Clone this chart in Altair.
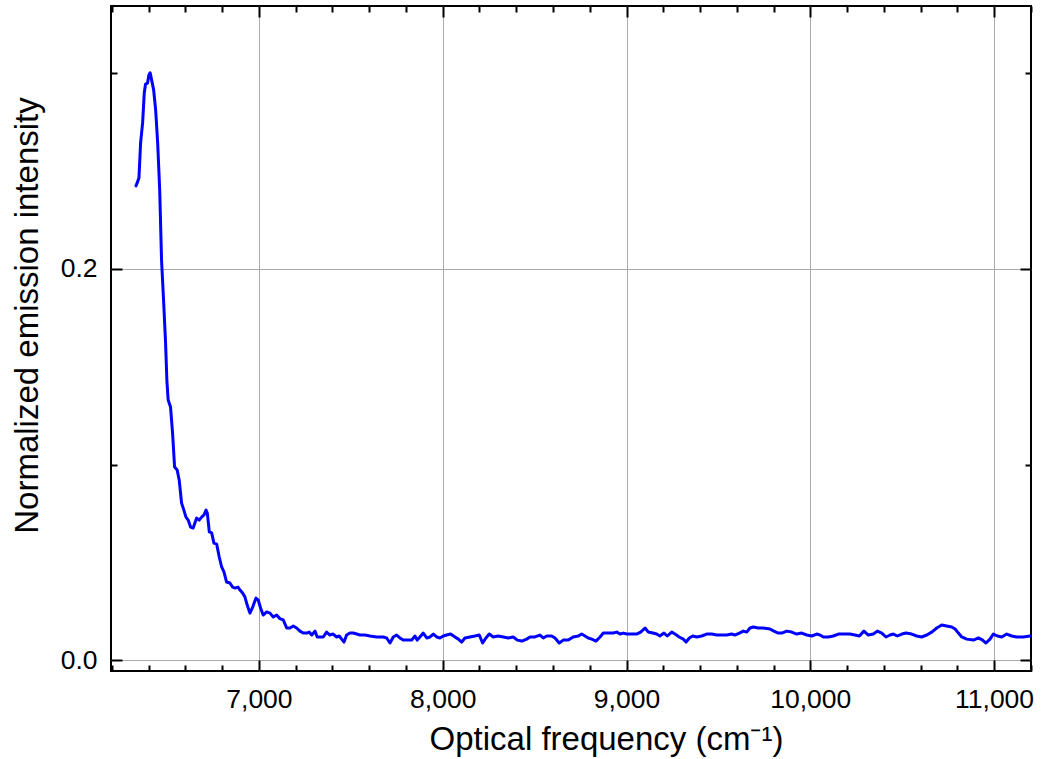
import altair as alt
import pandas as pd

# Optical frequency (cm^-1)
freq = [
    6331, 6340, 6347, 6356, 6367, 6376, 6383, 6394, 6401, 6408,
    6416, 6427, 6438, 6449, 6460, 6470, 6481, 6492, 6499, 6506,
    6519, 6530, 6541, 6555, 6566, 6579, 6588, 6603, 6615, 6628,
    6642, 6661, 6675, 6688, 6701, 6712, 6719, 6730, 6743, 6755,
    6770, 6784, 6797, 6810, 6824, 6842, 6857, 6871, 6886, 6897,
    6911, 6924, 6936, 6951, 6966, 6984, 6996, 7009, 7023, 7042,
    7060, 7078, 7096, 7114, 7132, 7151, 7169, 7187, 7205, 7223,
    7241, 7260, 7274, 7287, 7305, 7317, 7332, 7350, 7368, 7386,
    7404, 7423, 7437, 7450, 7463, 7477, 7495, 7513, 7532, 7550,
    7577, 7604, 7641, 7658, 7676, 7695, 7713, 7731, 7749, 7767,
    7785, 7813, 7831, 7849, 7861, 7876, 7894, 7913, 7931, 7949,
    7967, 7985, 8003, 8021, 8043, 8067, 8085, 8103, 8121, 8148,
    8175, 8199, 8217, 8235, 8253, 8275, 8302, 8330, 8357, 8384,
    8406, 8430, 8457, 8475, 8502, 8529, 8547, 8566, 8593, 8611,
    8634, 8656, 8683, 8710, 8738, 8756, 8774, 8792, 8811, 8834,
    8856, 8874, 8901, 8928, 8947, 8965, 8983, 9001, 9028, 9055,
    9077, 9101, 9119, 9143, 9164, 9182, 9204, 9222, 9246, 9264,
    9287, 9309, 9324, 9342, 9360, 9382, 9409, 9436, 9464, 9491,
    9518, 9545, 9572, 9590, 9614, 9636, 9654, 9672, 9690, 9717,
    9744, 9781, 9802, 9826, 9845, 9872, 9899, 9926, 9953, 9981,
    10008, 10035, 10053, 10071, 10098, 10125, 10153, 10189, 10216, 10243,
    10267, 10292, 10316, 10343, 10365, 10389, 10412, 10434, 10452, 10474,
    10498, 10521, 10552, 10579, 10606, 10634, 10661, 10688, 10715, 10742,
    10770, 10788, 10806, 10824, 10851, 10888, 10915, 10938, 10956, 10978,
    10996, 11018, 11042, 11069, 11096, 11123, 11159, 11196,
]

# Normalized emission intensity
intensity = [
    0.2425, 0.2447, 0.2465, 0.2644, 0.2747, 0.2900, 0.2946, 0.2951, 0.2992, 0.3003,
    0.2967, 0.2916, 0.2813, 0.2644, 0.2404, 0.2046, 0.1841, 0.1621, 0.1432, 0.1330,
    0.1294, 0.1161, 0.0987, 0.0972, 0.0921, 0.0803, 0.0777, 0.0731, 0.0716, 0.0680,
    0.0675, 0.0726, 0.0716, 0.0731, 0.0742, 0.0767, 0.0752, 0.0655, 0.0650, 0.0598,
    0.0593, 0.0527, 0.0476, 0.0450, 0.0399, 0.0394, 0.0373, 0.0368, 0.0373, 0.0358,
    0.0343, 0.0322, 0.0281, 0.0240, 0.0271, 0.0317, 0.0307, 0.0266, 0.0230, 0.0246,
    0.0240, 0.0220, 0.0230, 0.0212, 0.0205, 0.0164, 0.0164, 0.0174, 0.0164, 0.0148,
    0.0138, 0.0138, 0.0143, 0.0128, 0.0148, 0.0118, 0.0118, 0.0118, 0.0143, 0.0128,
    0.0133, 0.0118, 0.0123, 0.0107, 0.0092, 0.0128, 0.0138, 0.0138, 0.0133, 0.0128,
    0.0128, 0.0123, 0.0118, 0.0118, 0.0118, 0.0113, 0.0087, 0.0118, 0.0128, 0.0113,
    0.0102, 0.0102, 0.0102, 0.0123, 0.0102, 0.0118, 0.0138, 0.0113, 0.0118, 0.0133,
    0.0118, 0.0113, 0.0123, 0.0128, 0.0133, 0.0118, 0.0107, 0.0092, 0.0113, 0.0118,
    0.0123, 0.0128, 0.0087, 0.0113, 0.0133, 0.0118, 0.0123, 0.0118, 0.0113, 0.0118,
    0.0102, 0.0097, 0.0107, 0.0118, 0.0118, 0.0128, 0.0113, 0.0123, 0.0123, 0.0113,
    0.0087, 0.0102, 0.0102, 0.0118, 0.0123, 0.0133, 0.0123, 0.0113, 0.0107, 0.0097,
    0.0118, 0.0138, 0.0138, 0.0138, 0.0143, 0.0133, 0.0138, 0.0133, 0.0133, 0.0133,
    0.0143, 0.0164, 0.0143, 0.0138, 0.0133, 0.0123, 0.0138, 0.0123, 0.0143, 0.0133,
    0.0118, 0.0107, 0.0092, 0.0113, 0.0123, 0.0118, 0.0123, 0.0133, 0.0133, 0.0128,
    0.0128, 0.0128, 0.0133, 0.0128, 0.0138, 0.0148, 0.0143, 0.0164, 0.0169, 0.0164,
    0.0164, 0.0159, 0.0148, 0.0138, 0.0138, 0.0148, 0.0143, 0.0133, 0.0138, 0.0128,
    0.0123, 0.0133, 0.0128, 0.0118, 0.0118, 0.0123, 0.0133, 0.0133, 0.0133, 0.0128,
    0.0123, 0.0148, 0.0128, 0.0133, 0.0148, 0.0138, 0.0118, 0.0128, 0.0133, 0.0123,
    0.0133, 0.0138, 0.0133, 0.0123, 0.0118, 0.0128, 0.0143, 0.0164, 0.0179, 0.0174,
    0.0169, 0.0159, 0.0138, 0.0118, 0.0107, 0.0102, 0.0113, 0.0102, 0.0087, 0.0107,
    0.0133, 0.0123, 0.0118, 0.0133, 0.0123, 0.0118, 0.0118, 0.0123,
]

x_major = [7000, 8000, 9000, 10000, 11000]
x_minor = [6200, 6400, 6600, 6800, 7200, 7400, 7600, 7800, 8200, 8400, 8600, 8800,
           9200, 9400, 9600, 9800, 10200, 10400, 10600, 10800, 11200]
y_major = [0.0, 0.2]
y_minor = [0.1, 0.3]

x_domain = [6195, 11201]
y_domain = [-0.0056, 0.3345]

df = pd.DataFrame({"freq": freq, "intensity": intensity})

FONT = "Liberation Sans"
GRID = "#aaaaaa"
xs = alt.Scale(domain=x_domain, nice=False, zero=False)
ys = alt.Scale(domain=y_domain, nice=False, zero=False)

main = alt.Chart(df).mark_line(
    color="#0000FF", strokeWidth=3, strokeJoin="round", strokeCap="round", clip=True
).encode(
    x=alt.X(
        "freq:Q",
        scale=xs,
        axis=alt.Axis(
            orient="bottom", values=x_major, format=",d", ticks=False, domain=False,
            grid=True, gridColor=GRID, gridWidth=1,
            labelFont=FONT, labelFontSize=26.5, labelColor="black", labelPadding=15,
            labelFlush=False,
            title="Optical frequency (cm⁻¹)", titleFont=FONT, titleFontSize=33,
            titleFontWeight="normal", titleColor="black",
            titleX=495, titleY=78, titleAlign="center", titleBaseline="alphabetic",
        ),
    ),
    y=alt.Y(
        "intensity:Q",
        scale=ys,
        axis=alt.Axis(
            orient="left", values=y_major, format=".1f", ticks=False, domain=False,
            grid=True, gridColor=GRID, gridWidth=1,
            labelFont=FONT, labelFontSize=26.5, labelColor="black", labelPadding=14,
            labelFlush=False,
            title="Normalized emission intensity", titleFont=FONT, titleFontSize=33,
            titleFontWeight="normal", titleColor="black", titleAngle=270,
            titleX=-74, titleY=309, titleAlign="center", titleBaseline="alphabetic",
        ),
    ),
)


def tick_layer(x_orient, x_vals, y_orient, y_vals, size):
    def ax(orient, vals):
        return alt.Axis(
            orient=orient, values=vals, offset=-size, tickSize=size, tickWidth=2,
            tickColor="black", labels=False, domain=False, grid=False, title=None,
        )
    return alt.Chart(df).mark_line(opacity=0).encode(
        x=alt.X("freq:Q", scale=xs, axis=ax(x_orient, x_vals)),
        y=alt.Y("intensity:Q", scale=ys, axis=ax(y_orient, y_vals)),
    )


chart = alt.layer(
    main,
    tick_layer("bottom", x_major, "left", y_major, 11),
    tick_layer("bottom", x_minor, "left", y_minor, 6),
    tick_layer("top", x_major, "right", y_major, 11),
    tick_layer("top", x_minor, "right", y_minor, 6),
).resolve_axis(
    x="independent", y="independent"
).properties(
    width=920,
    height=665,
    autosize=alt.AutoSizeParams(type="none"),
    padding={"left": 111, "top": 6, "right": 10, "bottom": 88},
    background="white",
).configure_view(
    stroke="black", strokeWidth=2
)

chart.save("out.html", embed_options={"renderer": "svg", "actions": False})
